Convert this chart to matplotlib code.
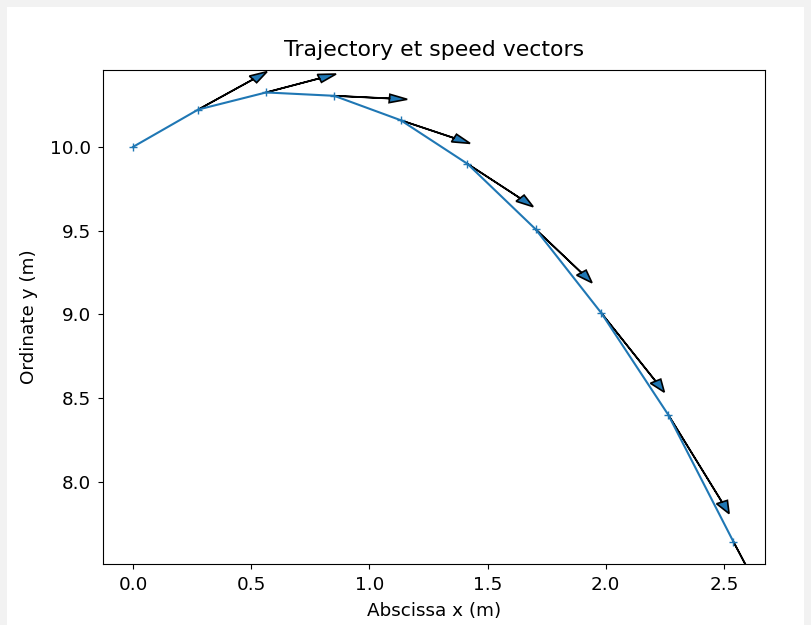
import numpy as np
import matplotlib
matplotlib.use('Agg')
import matplotlib.pyplot as plt
from matplotlib.patches import Rectangle

# positions (m)
x = [0.0, 0.276, 0.563, 0.851, 1.133, 1.415, 1.703, 1.981, 2.265, 2.540]
y = [10.0, 10.223, 10.325, 10.305, 10.159, 9.899, 9.509, 9.009, 8.40, 7.644]

# vecteurs vitesse (deja mis a l'echelle), un par point a partir du 2eme
vx = [0.291, 0.296, 0.309, 0.293, 0.278, 0.239, 0.267, 0.257, 0.27]
vy = [0.226, 0.110, -0.021, -0.138, -0.256, -0.320, -0.473, -0.589, -0.72]

W, H = 812, 625
plt.rcParams['font.size'] = 13.2
fig = plt.figure(figsize=(W/100, H/100), dpi=100, facecolor='#f2f2f2')
fig.patches.append(Rectangle((7/W, 0), (804-7)/W, (H-7)/H, transform=fig.transFigure,
                             facecolor='white', edgecolor='none', zorder=-1))

ax = fig.add_axes([103/W, (H-564)/H, (765-103)/W, (564-70)/H])
ax.plot(x, y, marker='+', color='C0', linewidth=1.5)
for i in range(len(vx)):
    ax.arrow(x[i+1], y[i+1], vx[i], vy[i], head_width=0.05, length_includes_head=True,
             facecolor='C0', edgecolor='black', linewidth=1.2)

ax.set_xlim(-0.127, 2.674)
ax.set_ylim(7.51, 10.459)
ax.tick_params(axis='x', pad=5)
ax.tick_params(axis='y', pad=5)
ax.set_title('Trajectory et speed vectors', pad=10)
ax.set_xlabel('Abscissa x (m)', labelpad=6)
ax.set_ylabel('Ordinate y (m)', labelpad=9)

fig.savefig('out.png', dpi=100, facecolor=fig.get_facecolor())
